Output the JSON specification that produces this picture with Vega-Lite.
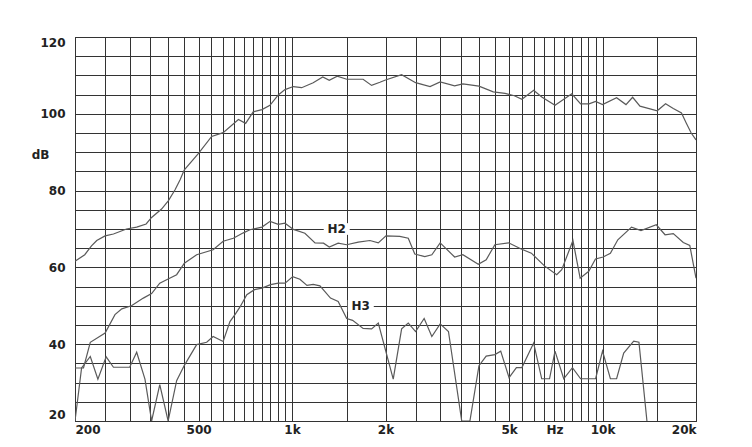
{
  "$schema": "https://vega.github.io/schema/vega-lite/v6.json",
  "width": 621,
  "height": 384,
  "autosize": "none",
  "padding": {"left": 75, "top": 37, "right": 56, "bottom": 26},
  "background": "white",
  "config": {
    "view": {"stroke": "#333", "strokeWidth": 1},
    "axis": {
      "gridColor": "#333", "gridOpacity": 1, "gridWidth": 1,
      "domainColor": "#333", "ticks": false,
      "labelFont": "DejaVu Sans", "labelFontWeight": "bold", "labelFontSize": 12, "labelColor": "#222",
      "titleFont": "DejaVu Sans", "titleFontWeight": "bold", "titleFontSize": 12, "titleColor": "#222"
    }
  },
  "datasets": {
    "curves": [
      {"s": "Main", "f": 200, "db": 61.6}, {"s": "Main", "f": 215, "db": 63.3}, {"s": "Main", "f": 226, "db": 65.6}, {"s": "Main", "f": 235, "db": 67.0},
      {"s": "Main", "f": 250, "db": 68.2}, {"s": "Main", "f": 266, "db": 68.7}, {"s": "Main", "f": 293, "db": 70.0}, {"s": "Main", "f": 316, "db": 70.5},
      {"s": "Main", "f": 339, "db": 71.3}, {"s": "Main", "f": 353, "db": 73.0}, {"s": "Main", "f": 380, "db": 75.2}, {"s": "Main", "f": 400, "db": 77.4},
      {"s": "Main", "f": 420, "db": 80.2}, {"s": "Main", "f": 436, "db": 82.8}, {"s": "Main", "f": 450, "db": 85.4}, {"s": "Main", "f": 499, "db": 89.6},
      {"s": "Main", "f": 551, "db": 94.1}, {"s": "Main", "f": 600, "db": 95.1}, {"s": "Main", "f": 672, "db": 98.5}, {"s": "Main", "f": 709, "db": 97.5},
      {"s": "Main", "f": 750, "db": 100.5}, {"s": "Main", "f": 800, "db": 101.1}, {"s": "Main", "f": 849, "db": 102.2}, {"s": "Main", "f": 903, "db": 104.9},
      {"s": "Main", "f": 949, "db": 106.3}, {"s": "Main", "f": 1010, "db": 107.1}, {"s": "Main", "f": 1074, "db": 106.8}, {"s": "Main", "f": 1170, "db": 108.1},
      {"s": "Main", "f": 1256, "db": 109.6}, {"s": "Main", "f": 1318, "db": 108.7}, {"s": "Main", "f": 1398, "db": 109.8}, {"s": "Main", "f": 1500, "db": 109.0},
      {"s": "Main", "f": 1694, "db": 109.0}, {"s": "Main", "f": 1804, "db": 107.4}, {"s": "Main", "f": 1919, "db": 108.2}, {"s": "Main", "f": 2000, "db": 108.8},
      {"s": "Main", "f": 2254, "db": 110.2}, {"s": "Main", "f": 2500, "db": 108.1}, {"s": "Main", "f": 2783, "db": 107.1}, {"s": "Main", "f": 3000, "db": 108.3},
      {"s": "Main", "f": 3340, "db": 107.3}, {"s": "Main", "f": 3550, "db": 107.8}, {"s": "Main", "f": 4000, "db": 107.2}, {"s": "Main", "f": 4448, "db": 105.7},
      {"s": "Main", "f": 4853, "db": 105.3}, {"s": "Main", "f": 5200, "db": 104.7}, {"s": "Main", "f": 5500, "db": 103.8}, {"s": "Main", "f": 6000, "db": 106.1},
      {"s": "Main", "f": 6372, "db": 104.4}, {"s": "Main", "f": 7030, "db": 102.2}, {"s": "Main", "f": 7962, "db": 105.2}, {"s": "Main", "f": 8500, "db": 102.6},
      {"s": "Main", "f": 9050, "db": 102.6}, {"s": "Main", "f": 9500, "db": 103.2}, {"s": "Main", "f": 10000, "db": 102.4}, {"s": "Main", "f": 11100, "db": 104.2},
      {"s": "Main", "f": 11900, "db": 102.4}, {"s": "Main", "f": 12500, "db": 104.3}, {"s": "Main", "f": 13200, "db": 102.0}, {"s": "Main", "f": 15000, "db": 100.8},
      {"s": "Main", "f": 15960, "db": 102.6}, {"s": "Main", "f": 16900, "db": 101.4}, {"s": "Main", "f": 17960, "db": 100.2}, {"s": "Main", "f": 18600, "db": 97.6},
      {"s": "Main", "f": 19300, "db": 95.0}, {"s": "Main", "f": 20000, "db": 93.2},

      {"s": "H2", "f": 200, "db": 33.8}, {"s": "H2", "f": 213, "db": 33.8}, {"s": "H2", "f": 224, "db": 40.5}, {"s": "H2", "f": 250, "db": 42.9},
      {"s": "H2", "f": 269, "db": 47.7}, {"s": "H2", "f": 283, "db": 49.2}, {"s": "H2", "f": 304, "db": 50.0}, {"s": "H2", "f": 332, "db": 52.0},
      {"s": "H2", "f": 353, "db": 53.2}, {"s": "H2", "f": 375, "db": 55.9}, {"s": "H2", "f": 399, "db": 57.0}, {"s": "H2", "f": 425, "db": 58.1},
      {"s": "H2", "f": 450, "db": 61.1}, {"s": "H2", "f": 493, "db": 63.3}, {"s": "H2", "f": 557, "db": 64.6}, {"s": "H2", "f": 600, "db": 66.8},
      {"s": "H2", "f": 647, "db": 67.6}, {"s": "H2", "f": 697, "db": 69.0}, {"s": "H2", "f": 732, "db": 69.8}, {"s": "H2", "f": 800, "db": 70.5},
      {"s": "H2", "f": 850, "db": 72.0}, {"s": "H2", "f": 903, "db": 71.2}, {"s": "H2", "f": 949, "db": 71.5}, {"s": "H2", "f": 1010, "db": 69.9},
      {"s": "H2", "f": 1100, "db": 68.9}, {"s": "H2", "f": 1186, "db": 66.4}, {"s": "H2", "f": 1263, "db": 66.3}, {"s": "H2", "f": 1318, "db": 65.3},
      {"s": "H2", "f": 1408, "db": 66.3}, {"s": "H2", "f": 1500, "db": 65.9}, {"s": "H2", "f": 1634, "db": 66.6}, {"s": "H2", "f": 1782, "db": 67.0},
      {"s": "H2", "f": 1896, "db": 66.4}, {"s": "H2", "f": 2007, "db": 68.2}, {"s": "H2", "f": 2224, "db": 68.1}, {"s": "H2", "f": 2368, "db": 67.6},
      {"s": "H2", "f": 2485, "db": 63.5}, {"s": "H2", "f": 2677, "db": 62.8}, {"s": "H2", "f": 2820, "db": 63.3}, {"s": "H2", "f": 3000, "db": 66.4},
      {"s": "H2", "f": 3340, "db": 62.7}, {"s": "H2", "f": 3550, "db": 63.3}, {"s": "H2", "f": 3980, "db": 60.8}, {"s": "H2", "f": 4220, "db": 62.0},
      {"s": "H2", "f": 4500, "db": 65.9}, {"s": "H2", "f": 4980, "db": 66.4}, {"s": "H2", "f": 5470, "db": 64.8}, {"s": "H2", "f": 5900, "db": 63.7},
      {"s": "H2", "f": 6500, "db": 60.4}, {"s": "H2", "f": 7120, "db": 58.1}, {"s": "H2", "f": 7390, "db": 59.4}, {"s": "H2", "f": 8030, "db": 67.0},
      {"s": "H2", "f": 8470, "db": 57.2}, {"s": "H2", "f": 9030, "db": 59.0}, {"s": "H2", "f": 9490, "db": 62.2}, {"s": "H2", "f": 10050, "db": 62.7},
      {"s": "H2", "f": 10600, "db": 63.7}, {"s": "H2", "f": 11200, "db": 67.2}, {"s": "H2", "f": 12400, "db": 70.5}, {"s": "H2", "f": 13300, "db": 69.6},
      {"s": "H2", "f": 14900, "db": 71.1}, {"s": "H2", "f": 15900, "db": 68.5}, {"s": "H2", "f": 16900, "db": 68.8}, {"s": "H2", "f": 18200, "db": 66.5},
      {"s": "H2", "f": 19100, "db": 65.7}, {"s": "H2", "f": 20000, "db": 57.2},

      {"s": "H3", "f": 200, "db": 20.0}, {"s": "H3", "f": 210, "db": 33.8}, {"s": "H3", "f": 224, "db": 36.8}, {"s": "H3", "f": 237, "db": 30.9},
      {"s": "H3", "f": 252, "db": 36.7}, {"s": "H3", "f": 266, "db": 34.0}, {"s": "H3", "f": 300, "db": 34.0}, {"s": "H3", "f": 316, "db": 37.9},
      {"s": "H3", "f": 336, "db": 30.9}, {"s": "H3", "f": 353, "db": 20.0}, {"s": "H3", "f": 375, "db": 29.5}, {"s": "H3", "f": 399, "db": 20.0},
      {"s": "H3", "f": 425, "db": 30.5}, {"s": "H3", "f": 450, "db": 34.5}, {"s": "H3", "f": 493, "db": 39.9}, {"s": "H3", "f": 531, "db": 40.5},
      {"s": "H3", "f": 557, "db": 42.0}, {"s": "H3", "f": 600, "db": 40.7}, {"s": "H3", "f": 631, "db": 45.9}, {"s": "H3", "f": 655, "db": 47.7},
      {"s": "H3", "f": 680, "db": 49.7}, {"s": "H3", "f": 715, "db": 52.9}, {"s": "H3", "f": 757, "db": 54.2}, {"s": "H3", "f": 800, "db": 54.6},
      {"s": "H3", "f": 853, "db": 55.5}, {"s": "H3", "f": 903, "db": 55.9}, {"s": "H3", "f": 950, "db": 55.9}, {"s": "H3", "f": 1005, "db": 57.6},
      {"s": "H3", "f": 1060, "db": 56.9}, {"s": "H3", "f": 1117, "db": 55.3}, {"s": "H3", "f": 1170, "db": 55.6}, {"s": "H3", "f": 1230, "db": 55.2},
      {"s": "H3", "f": 1330, "db": 52.0}, {"s": "H3", "f": 1408, "db": 51.1}, {"s": "H3", "f": 1500, "db": 46.7}, {"s": "H3", "f": 1567, "db": 46.2},
      {"s": "H3", "f": 1694, "db": 44.1}, {"s": "H3", "f": 1804, "db": 44.0}, {"s": "H3", "f": 1896, "db": 45.5}, {"s": "H3", "f": 2118, "db": 30.9},
      {"s": "H3", "f": 2254, "db": 44.0}, {"s": "H3", "f": 2368, "db": 45.5}, {"s": "H3", "f": 2500, "db": 43.3}, {"s": "H3", "f": 2664, "db": 46.7},
      {"s": "H3", "f": 2820, "db": 42.0}, {"s": "H3", "f": 3000, "db": 45.3}, {"s": "H3", "f": 3190, "db": 43.3}, {"s": "H3", "f": 3520, "db": 20.0},
      {"s": "H3", "f": 3740, "db": 20.0}, {"s": "H3", "f": 4000, "db": 34.4}, {"s": "H3", "f": 4220, "db": 36.9}, {"s": "H3", "f": 4500, "db": 37.3},
      {"s": "H3", "f": 4700, "db": 38.2}, {"s": "H3", "f": 5000, "db": 31.3}, {"s": "H3", "f": 5280, "db": 33.9}, {"s": "H3", "f": 5500, "db": 33.9},
      {"s": "H3", "f": 6000, "db": 40.3}, {"s": "H3", "f": 6370, "db": 31.0}, {"s": "H3", "f": 6750, "db": 31.0}, {"s": "H3", "f": 7030, "db": 38.2},
      {"s": "H3", "f": 7500, "db": 31.0}, {"s": "H3", "f": 8000, "db": 33.9}, {"s": "H3", "f": 8500, "db": 31.0}, {"s": "H3", "f": 9500, "db": 31.0},
      {"s": "H3", "f": 10000, "db": 38.2}, {"s": "H3", "f": 10600, "db": 31.0}, {"s": "H3", "f": 11100, "db": 31.0}, {"s": "H3", "f": 11700, "db": 37.7},
      {"s": "H3", "f": 12600, "db": 40.8}, {"s": "H3", "f": 13100, "db": 40.5}, {"s": "H3", "f": 13900, "db": 20.0}
    ],
    "labels": [
      {"f": 1393, "db": 70, "t": "H2"},
      {"f": 1665, "db": 50, "t": "H3"}
    ]
  },
  "encoding": {
    "x": {
      "field": "f", "type": "quantitative",
      "scale": {"type": "log", "domain": [200, 20000], "nice": false},
      "axis": {
        "title": null,
        "values": [200, 250, 300, 350, 400, 450, 500, 550, 600, 650, 700, 750, 800, 850, 900, 950, 1000, 1500, 2000, 2500, 3000, 3500, 4000, 4500, 5000, 5500, 6000, 6500, 7000, 7500, 8000, 8500, 9000, 9500, 10000, 15000, 20000],
        "grid": true,
        "labelExpr": "datum.value==200?'200':datum.value==500?'500':datum.value==1000?'1k':datum.value==2000?'2k':datum.value==5000?'5k':datum.value==7000?'Hz':datum.value==10000?'10k':datum.value==20000?'20k':''",
        "labelFlush": true,
        "labelOverlap": false,
        "labelBound": false,
        "labelPadding": 3
      }
    },
    "y": {
      "field": "db", "type": "quantitative",
      "scale": {"domain": [20, 120], "nice": false, "zero": false},
      "axis": {
        "title": "dB",
        "titleAngle": 0, "titleX": -35, "titleY": 117, "titleAlign": "center", "titleBaseline": "middle",
        "values": [20, 25, 30, 35, 40, 45, 50, 55, 60, 65, 70, 75, 80, 85, 90, 95, 100, 105, 110, 115, 120],
        "grid": true,
        "labelExpr": "datum.value == 20 || datum.value == 40 || datum.value == 60 || datum.value == 80 || datum.value == 100 || datum.value == 120 ? datum.label : ''",
        "labelFlush": true,
        "labelOverlap": false,
        "labelBound": false,
        "labelPadding": 10
      }
    }
  },
  "layer": [
    {
      "data": {"name": "curves"},
      "mark": {"type": "line", "color": "#5a5a5a", "strokeWidth": 1.2, "clip": true},
      "encoding": {
        "detail": {"field": "s"}
      }
    },
    {
      "data": {"name": "labels"},
      "mark": {"type": "point", "shape": "M-1,-0.45H1V0.45H-1Z", "filled": true, "fill": "white", "opacity": 1, "strokeWidth": 0, "size": 676}
    },
    {
      "data": {"name": "labels"},
      "mark": {"type": "text", "font": "DejaVu Sans", "fontWeight": "bold", "fontSize": 12, "color": "#222", "align": "center", "baseline": "middle"},
      "encoding": {
        "text": {"field": "t"}
      }
    }
  ]
}
